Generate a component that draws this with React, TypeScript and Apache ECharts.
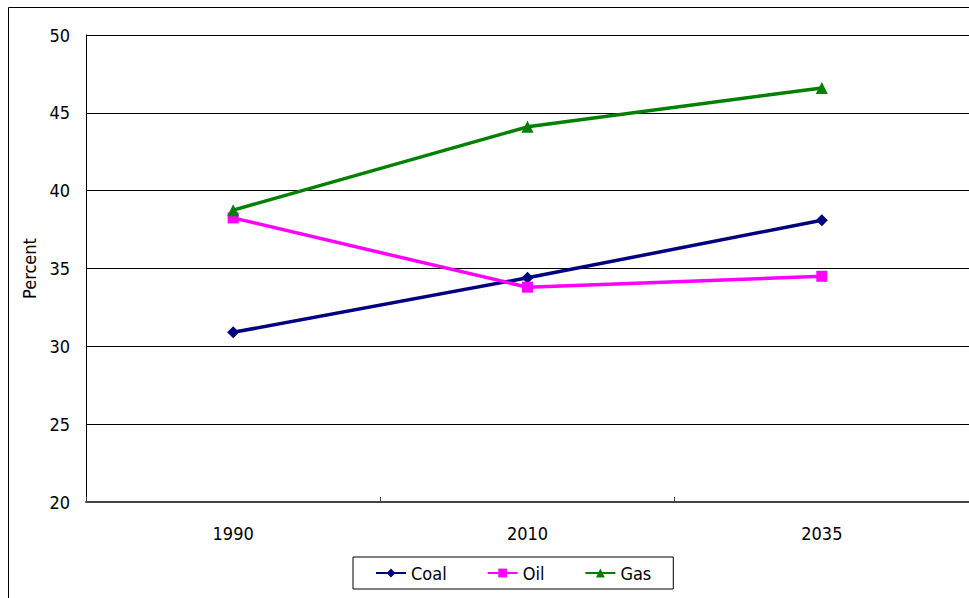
import React, { useEffect, useRef } from "react";
import * as echarts from "echarts";

const years = ["1990", "2010", "2035"];
const coal = [30.9, 34.4, 38.1];
const oil = [38.25, 33.8, 34.5];
const gas = [38.75, 44.1, 46.6];
const yTicks = { min: 20, max: 50, interval: 5 };

const FONT = "'Liberation Sans Narrow', 'Arial Narrow', 'DejaVu Sans Condensed', sans-serif";

export default function App() {
  const ref = useRef<HTMLDivElement>(null);

  useEffect(() => {
    if (!ref.current) return;
    const chart = echarts.init(ref.current, undefined, { renderer: "svg" });
    const lineSeries = (name: string, data: number[], color: string, symbol: string, size: number) => ({
      name,
      type: "line",
      data,
      symbol,
      symbolSize: size,
      showSymbol: true,
      lineStyle: { color, width: 3.5 },
      itemStyle: { color },
    });
    chart.setOption({
      animation: false,
      backgroundColor: "#fff",
      textStyle: { fontFamily: FONT },
      graphic: [
        {
          type: "rect",
          shape: { x: 8.5, y: 7.5, width: 1000, height: 700 },
          style: { fill: "none", stroke: "#000", lineWidth: 1 },
          silent: true,
        },
      ],
      grid: { left: 86, top: 35, right: 0, bottom: 96, containLabel: false },
      legend: {
        left: 353,
        top: 557,
        padding: [7, 22, 7, 22],
        itemGap: 40,
        itemWidth: 30,
        itemHeight: 11,
        borderColor: "#000",
        borderWidth: 1,
        textStyle: { fontFamily: FONT, fontSize: 18, color: "#000" },
        data: ["Coal", "Oil", "Gas"],
      },
      xAxis: {
        type: "category",
        data: years,
        boundaryGap: true,
        axisLine: { lineStyle: { color: "#444", width: 2 } },
        axisTick: { show: true, inside: true, length: 5, lineStyle: { color: "#444" } },
        axisLabel: { color: "#000", fontSize: 18, margin: 22, fontFamily: FONT },
        splitLine: { show: false },
      },
      yAxis: {
        type: "value",
        min: yTicks.min,
        max: yTicks.max,
        interval: yTicks.interval,
        name: "Percent",
        nameLocation: "middle",
        nameGap: 48,
        nameTextStyle: { color: "#000", fontSize: 18, fontFamily: FONT },
        axisLine: { show: true, lineStyle: { color: "#000", width: 1 } },
        axisTick: { show: false },
        axisLabel: { color: "#000", fontSize: 18, margin: 16, fontFamily: FONT },
        splitLine: { show: true, lineStyle: { color: "#000", width: 1 } },
      },
      series: [
        lineSeries("Coal", coal, "#000080", "diamond", 12),
        lineSeries("Oil", oil, "#FF00FF", "rect", 11),
        lineSeries("Gas", gas, "#008000", "triangle", 12),
      ],
    });
    return () => chart.dispose();
  }, []);

  return (
    <div
      ref={ref}
      style={{ position: "fixed", left: 0, top: 0, width: 969, height: 598 }}
    />
  );
}
